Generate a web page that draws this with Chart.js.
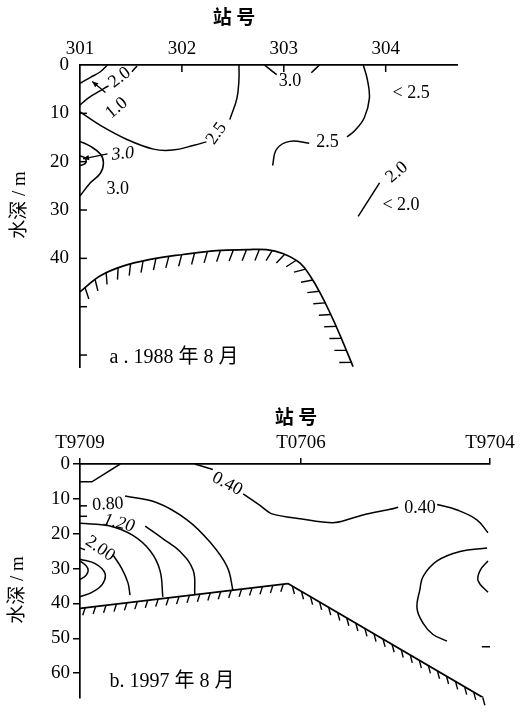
<!DOCTYPE html>
<html>
<head>
<meta charset="utf-8">
<script src="https://cdn.jsdelivr.net/npm/chart.js@4.4.0/dist/chart.umd.min.js"></script>
<style>
  html, body { margin: 0; padding: 0; background: #fff; }
  canvas { display: block; }
</style>
</head>
<body>
<canvas id="chartA" width="523" height="390"></canvas>
<canvas id="chartB" width="523" height="322"></canvas>
<script>
// ---- a. 1988年8月 (x: 站号 301-304, y: 水深 m) ----
const stationsA = [301, 302, 303, 304];
const depthTicksA = [0, 10, 20, 30, 40, 50, 60];
const depthLabelsA = ['0', '10', '20', '30', '40', '', ''];

const a20top = [[301.00, 3.8], [301.10, 2.6], [301.20, 1.4], [301.27, 0]];
const a10 = [[301.00, 8.3], [301.07, 7.0], [301.15, 5.9], [301.24, 4.8], [301.28, 4.3]];
const a10end = [[301.51, 1.4], [301.56, 0.2]];
const a25left = [[301.00, 9.7], [301.20, 12.5], [301.46, 15.4], [301.72, 17.4], [301.91, 17.6], [302.12, 16.6], [302.24, 15.9]];
const a25top = [[302.47, 11.3], [302.54, 6.9], [302.56, 3.0], [302.56, 0]];
const a30loop = [[301.00, 15.8], [301.10, 16.8], [301.20, 18.4], [301.23, 20.2], [301.20, 22.4], [301.10, 24.4], [301.00, 27.1]];
const a30small = [[301.00, 18.8], [301.05, 19.2], [301.06, 19.8], [301.05, 20.4], [301.00, 20.8]];
const a30topL = [[302.81, 0], [302.93, 2.0]];
const a30topR = [[303.27, 1.6], [303.35, 0]];
const a25rightA = [[303.78, 0], [303.82, 3.0], [303.84, 6.9], [303.79, 10.9], [303.70, 13.5], [303.62, 14.9]];
const a25rightB = [[303.25, 16.2], [303.06, 15.8], [302.93, 17.4], [302.89, 20.8]];
const a20right = [[303.94, 24.4], [303.73, 31.3]];
const arrowsA = [
  [[301.25, 5.7], [301.12, 3.4]],
  [[301.27, 18.4], [301.03, 19.4]]
];
const seabedA = [[301.00, 46.9], [301.20, 43.6], [301.42, 41.6], [301.69, 40.2], [302.01, 39.2], [302.34, 38.4],
  [302.64, 38.2], [302.83, 38.2], [302.99, 39.0], [303.16, 41.0], [303.27, 44.0], [303.35, 46.9],
  [303.45, 51.1], [303.55, 55.8], [303.68, 62.4]];
const labelsA = [
  { x: 301.39, y: 2.6, t: '2.0', rot: -38 },
  { x: 301.36, y: 8.9, t: '1.0', rot: -40 },
  { x: 302.34, y: 14.2, t: '2.5', rot: -55 },
  { x: 301.42, y: 18.4, t: '3.0', rot: -5, italic: true },
  { x: 301.37, y: 25.7, t: '3.0' },
  { x: 303.06, y: 3.4, t: '3.0' },
  { x: 303.43, y: 16.0, t: '2.5' },
  { x: 304.11, y: 22.2, t: '2.0', rot: -40 },
  { x: 304.15, y: 29.1, t: '< 2.0' },
  { x: 304.25, y: 5.9, t: '< 2.5' }
];

// ---- b. 1997年8月 (x: 站位, 相对距离 %, y: 水深 m) ----
const stationsB = ['T9709', 'T0706', 'T9704'];
const stationPosB = [0, 53.9, 100];
const depthTicksB = [0, 10, 20, 30, 40, 50, 60];
const extraTicksB = [12, 15];

const bTop = [[0, 5.1], [2.9, 5.1], [9.8, 0]];
const b040a = [[28.0, 0], [32.4, 1.6]];
const b040b = [[39.8, 8.6], [43.9, 11.9], [46.8, 14.3], [53.7, 15.7], [62.2, 16.8], [69.0, 14.6], [75.6, 13.0], [77.6, 12.4]];
const b040c = [[87.1, 11.6], [92.0, 13.2], [96.8, 16.0], [99.5, 19.7]];
const b080 = [[11.0, 9.2], [18.8, 11.1], [26.1, 16.0], [31.7, 22.4], [35.9, 29.5], [37.3, 36.2]];
const b120 = [[15.9, 17.8], [20.2, 21.4], [24.4, 25.1], [27.6, 30.5], [28.0, 37.3]];
const b160 = [[0, 17.0], [7.3, 17.8], [12.9, 20.5], [17.1, 24.9], [19.5, 30.5], [20.2, 38.1]];
const b200a = [[0, 24.1], [1.2, 24.6]];
const b200b = [[8.0, 26.0], [10.2, 30.0], [11.7, 34.1], [12.2, 37.6]];
const bCore = [[0, 27.3], [3.7, 28.6], [6.1, 31.4], [5.4, 34.6], [2.9, 36.8], [0, 38.1]];
const bCoreSmall = [[0, 27.8], [1.5, 29.2], [2.0, 30.5], [1.5, 31.9], [0, 33.2]];
const bRight = [[99.3, 24.1], [92.7, 25.1], [87.1, 27.8], [83.7, 32.2], [82.9, 36.0], [82.2, 41.4], [83.7, 45.7], [86.1, 48.9], [89.5, 50.8]];
const bRightSmall = [[99.5, 27.8], [97.6, 30.5], [97.1, 33.5], [99.5, 36.8]];
const bDash = [[98.0, 52.4], [100, 52.4]];
const seabedB1 = [[0, 41.4], [50.7, 34.3]];
const seabedB2 = [[50.7, 34.3], [98.3, 67.0]];
const labelsB = [
  { x: 35.9, y: 5.7, t: '0.40', rot: 28 },
  { x: 82.9, y: 12.7, t: '0.40' },
  { x: 6.8, y: 11.6, t: '0.80', rot: -3 },
  { x: 9.5, y: 17.0, t: '1.20', rot: 14, italic: true },
  { x: 4.9, y: 24.3, t: '2.00', rot: 35 }
];

const SERIF = '"Liberation Serif", "Times New Roman", serif';
const MIXED = '"Liberation Serif", "Noto Sans CJK SC", serif';

const toXY = arr => arr.map(p => ({ x: p[0], y: p[1] }));

function line(arr, extra) {
  return Object.assign({
    data: toXY(arr),
    showLine: true,
    borderColor: '#000',
    borderWidth: 1.5,
    pointRadius: 0,
    tension: 0.4,
    fill: false
  }, extra || {});
}

// dense pixel polyline that follows the drawn bezier
function curvePoints(meta) {
  const pts = meta.data;
  const out = [];
  for (let i = 0; i < pts.length - 1; i++) {
    const p0 = pts[i], p1 = pts[i + 1];
    const c1x = p0.cp2x ?? p0.x, c1y = p0.cp2y ?? p0.y;
    const c2x = p1.cp1x ?? p1.x, c2y = p1.cp1y ?? p1.y;
    for (let k = 0; k < 20; k++) {
      const t = k / 20, u = 1 - t;
      out.push({
        x: u * u * u * p0.x + 3 * u * u * t * c1x + 3 * u * t * t * c2x + t * t * t * p1.x,
        y: u * u * u * p0.y + 3 * u * u * t * c1y + 3 * u * t * t * c2y + t * t * t * p1.y
      });
    }
  }
  const last = pts[pts.length - 1];
  out.push({ x: last.x, y: last.y });
  return out;
}

function makeMarks(cfg) {
  return {
    id: 'sectionMarks',
    afterDatasetsDraw(chart) {
      const ctx = chart.ctx;
      const xs = chart.scales.x, ys = chart.scales.y;
      ctx.save();
      ctx.strokeStyle = '#000';
      ctx.fillStyle = '#000';

      // seabed hatching + arrows
      chart.data.datasets.forEach((ds, i) => {
        const meta = chart.getDatasetMeta(i);
        if (ds.hatch) {
          const pts = curvePoints(meta);
          const h = ds.hatch;
          const ang = h.angle * Math.PI / 180;
          let next = h.gap / 2, run = 0;
          ctx.lineWidth = 1.4;
          for (let k = 0; k < pts.length - 1; k++) {
            const a = pts[k], b = pts[k + 1];
            const seg = Math.hypot(b.x - a.x, b.y - a.y);
            if (!seg) continue;
            const tx = (b.x - a.x) / seg, ty = (b.y - a.y) / seg;
            const nx = -ty, ny = tx;
            const hx = nx * Math.cos(ang) - tx * Math.sin(ang);
            const hy = ny * Math.cos(ang) - ty * Math.sin(ang);
            while (run + seg >= next) {
              const f = (next - run) / seg;
              const px = a.x + (b.x - a.x) * f, py = a.y + (b.y - a.y) * f;
              ctx.beginPath();
              ctx.moveTo(px, py);
              ctx.lineTo(px + hx * h.len, py + hy * h.len);
              ctx.stroke();
              next += h.gap;
            }
            run += seg;
          }
        }
        if (ds.arrow) {
          const pts = meta.data;
          const e = pts[pts.length - 1], s = pts[pts.length - 2];
          const ang = Math.atan2(e.y - s.y, e.x - s.x);
          const L = 6, W = 2.6;
          ctx.beginPath();
          ctx.moveTo(e.x, e.y);
          ctx.lineTo(e.x - L * Math.cos(ang) + W * Math.sin(ang), e.y - L * Math.sin(ang) - W * Math.cos(ang));
          ctx.lineTo(e.x - L * Math.cos(ang) - W * Math.sin(ang), e.y - L * Math.sin(ang) + W * Math.cos(ang));
          ctx.closePath();
          ctx.fill();
        }
      });

      // inward tick marks
      ctx.lineWidth = 1.5;
      if (cfg.inTicksX) {
        xs.ticks.forEach(t => {
          const px = xs.getPixelForValue(t.value);
          if (Math.abs(px - chart.chartArea.left) < 2) return;
          ctx.beginPath();
          ctx.moveTo(px, chart.chartArea.top);
          ctx.lineTo(px, chart.chartArea.top + 7);
          ctx.stroke();
        });
      }
      (cfg.inTicksY || []).forEach(v => {
        const py = ys.getPixelForValue(v);
        ctx.beginPath();
        ctx.moveTo(chart.chartArea.left, py);
        ctx.lineTo(chart.chartArea.left + 7, py);
        ctx.stroke();
      });

      // contour values
      ctx.textAlign = 'center';
      ctx.textBaseline = 'middle';
      cfg.labels.forEach(l => {
        ctx.save();
        ctx.translate(xs.getPixelForValue(l.x), ys.getPixelForValue(l.y));
        ctx.rotate((l.rot || 0) * Math.PI / 180);
        ctx.font = (l.italic ? 'italic ' : '') + '18px ' + SERIF;
        ctx.fillText(l.t, 0, 0);
        ctx.restore();
      });

      // titles and captions
      cfg.titles.forEach(l => {
        ctx.save();
        ctx.translate(l.px, l.py);
        ctx.rotate((l.rot || 0) * Math.PI / 180);
        ctx.font = l.font;
        ctx.fillText(l.t, 0, 0);
        ctx.restore();
      });
      ctx.restore();
    }
  };
}

const tickFont = { family: SERIF, size: 19 };

// ---------- chart a ----------
new Chart(document.getElementById('chartA'), {
  type: 'scatter',
  data: {
    datasets: [
      line(a20top), line(a10), line(a10end), line(a25left), line(a25top),
      line(a30loop), line(a30small), line(a30topL), line(a30topR),
      line(a25rightA), line(a25rightB), line(a20right),
      ...arrowsA.map(a => line(a, { arrow: true, borderWidth: 1.3 })),
      line(seabedA, { borderWidth: 1.7, hatch: { angle: 22, len: 12, gap: 13 } })
    ]
  },
  options: {
    responsive: false,
    animation: false,
    layout: { padding: { left: 0, top: 0, right: 66, bottom: 9 } },
    plugins: { legend: { display: false }, tooltip: { enabled: false } },
    scales: {
      x: {
        type: 'linear', position: 'top', min: 301, max: 304.7,
        afterBuildTicks: s => { s.ticks = stationsA.map(v => ({ value: v })); },
        afterFit: s => { s.height = 65; },
        grid: { display: false, drawTicks: false },
        border: { display: true, color: '#000', width: 1.7 },
        ticks: { color: '#000', font: tickFont, padding: 5, maxRotation: 0, autoSkip: false, callback: v => String(v) }
      },
      y: {
        type: 'linear', reverse: true, min: 0, max: 62.6,
        afterBuildTicks: s => { s.ticks = depthTicksA.map(v => ({ value: v })); },
        afterFit: s => { s.width = 80; },
        grid: { display: false, drawTicks: false },
        border: { display: true, color: '#000', width: 1.7 },
        ticks: { color: '#000', font: tickFont, padding: 11, autoSkip: false,
          callback: (v, i) => depthLabelsA[i] }
      }
    }
  },
  plugins: [makeMarks({
    labels: labelsA,
    inTicksX: true,
    inTicksY: depthTicksA.slice(1),
    titles: [
      { px: 234, py: 17, t: '站 号', font: 'bold 19px "Noto Sans CJK SC"' },
      { px: 20, py: 205, t: '水深 / m', rot: -90, font: '19px ' + MIXED },
      { px: 174, py: 358, t: 'a . 1988 年 8 月', font: '20px ' + MIXED }
    ]
  })]
});

// ---------- chart b ----------
new Chart(document.getElementById('chartB'), {
  type: 'scatter',
  data: {
    datasets: [
      line(bTop, { tension: 0 }), line(b040a), line(b040b, { tension: 0.3 }), line(b040c),
      line(b080), line(b120), line(b160), line(b200a), line(b200b),
      line(bCore), line(bCoreSmall), line(bRight), line(bRightSmall), line(bDash, { tension: 0 }),
      line(seabedB1, { borderWidth: 1.7, tension: 0, hatch: { angle: 25, len: 8, gap: 10.5 } }),
      line(seabedB2, { borderWidth: 1.7, tension: 0, hatch: { angle: -45, len: 8, gap: 10.5 } })
    ]
  },
  options: {
    responsive: false,
    animation: false,
    layout: { padding: { left: 0, top: 0, right: 33, bottom: 0 } },
    plugins: { legend: { display: false }, tooltip: { enabled: false } },
    scales: {
      x: {
        type: 'linear', position: 'top', min: 0, max: 100,
        afterBuildTicks: s => { s.ticks = stationPosB.map(v => ({ value: v })); },
        afterFit: s => { s.height = 74; },
        grid: { display: true, drawOnChartArea: false, tickLength: 6, color: '#000', lineWidth: 1.5 },
        border: { display: true, color: '#000', width: 1.7 },
        ticks: { color: '#000', font: tickFont, padding: 4, maxRotation: 0, autoSkip: false,
          callback: (v, i) => stationsB[i] }
      },
      y: {
        type: 'linear', reverse: true, min: 0, max: 67,
        afterBuildTicks: s => { s.ticks = depthTicksB.map(v => ({ value: v })); },
        afterFit: s => { s.width = 80; },
        grid: { display: true, drawOnChartArea: false, tickLength: 7, color: '#000', lineWidth: 1.5 },
        border: { display: true, color: '#000', width: 1.7 },
        ticks: { color: '#000', font: tickFont, padding: 3, autoSkip: false, callback: v => String(v) }
      }
    }
  },
  plugins: [makeMarks({
    labels: labelsB,
    inTicksX: false,
    inTicksY: extraTicksB,
    titles: [
      { px: 296, py: 27, t: '站 号', font: 'bold 19px "Noto Sans CJK SC"' },
      { px: 18, py: 200, t: '水深 / m', rot: -90, font: '19px ' + MIXED },
      { px: 172, py: 292, t: 'b. 1997 年 8 月', font: '20px ' + MIXED }
    ]
  })]
});
</script>
</body>
</html>
